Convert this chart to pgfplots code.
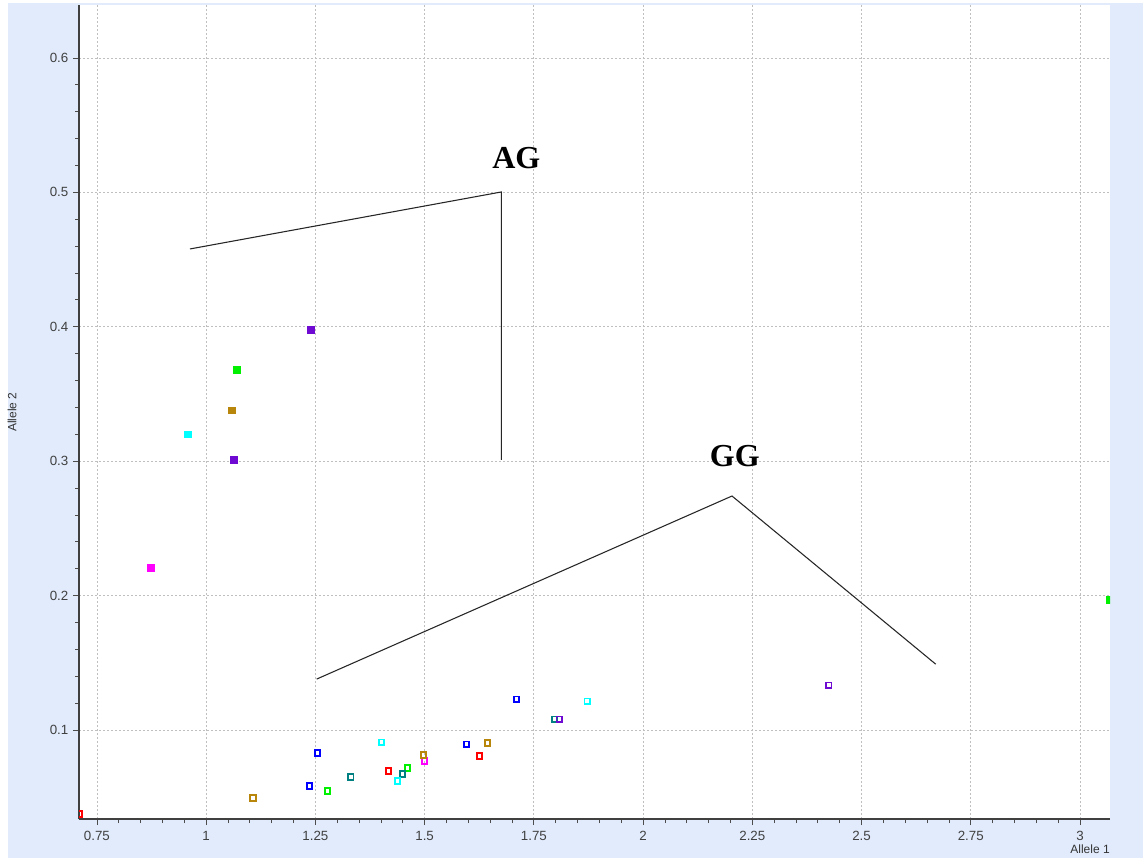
\documentclass[border=0pt]{standalone}
\usepackage{pgfplots}
\pgfplotsset{compat=1.18}
\usepackage{fontspec}
\setmainfont{Liberation Sans}
\newfontfamily\callout{Liberation Serif}

\definecolor{bgblue}{RGB}{225,235,252}
\definecolor{cMag}{RGB}{255,0,255}
\definecolor{cPur}{RGB}{110,10,210}
\definecolor{cGrn}{RGB}{0,240,0}
\definecolor{cGld}{RGB}{184,134,11}
\definecolor{cCyn}{RGB}{0,255,255}
\definecolor{cRed}{RGB}{255,0,0}
\definecolor{cBlu}{RGB}{0,0,255}
\definecolor{cTel}{RGB}{0,128,128}

\pgfplotsset{
  solid/.style={only marks, mark=square*, mark size=2.5pt, mark options={draw=#1, fill=#1}},
  hollow/.style={only marks, mark=square, mark size=2.0pt, mark options={draw=#1, line width=1.4pt}},
}

\begin{document}
\begin{tikzpicture}
\useasboundingbox (0,0) rectangle (857.25pt,643.5pt);
\fill[bgblue] (6pt,0) rectangle (857.25pt,641.25pt);
\begin{axis}[
  at={(59.25pt,29.25pt)}, anchor=south west,
  scale only axis, width=773.25pt, height=610.5pt,
  xmin=0.709, xmax=3.0686, ymin=0.0338, ymax=0.6394,
  axis x line*=bottom, axis y line*=left,
  axis line style={draw=black!75, line width=1.1pt},
  xtick={0.75,1,1.25,1.5,1.75,2,2.25,2.5,2.75,3},
  ytick={0.1,0.2,0.3,0.4,0.5,0.6},
  minor x tick num=4, minor y tick num=4,
  tick align=outside, major tick length=4.5pt, minor tick length=3pt,
  tick style={draw=black!70, line width=0.6pt},
  grid=major,
  major grid style={draw=black!25, dash pattern=on 1.5pt off 1.5pt, line width=0.6pt},
  axis background/.style={fill=white},
  /pgf/number format/assume math mode=true,
  ticklabel style={font=\fontsize{10}{12}\selectfont, text=black!75},
  xticklabel style={yshift=-1pt},
  clip marker paths=true,
  xlabel={Allele 1}, ylabel={Allele 2},
  xlabel style={at={(axis description cs:1,0)}, anchor=north east, yshift=-19.5pt, inner sep=0pt,
    font=\fontsize{9}{10}\selectfont, text=black!80},
  ylabel style={at={(axis description cs:0,0.5)}, anchor=center, yshift=50.25pt, inner sep=0pt,
    font=\fontsize{9}{10}\selectfont, text=black!80},
]
% filled markers
\addplot[solid=cMag] coordinates {(1.874,0.640) (0.874,0.2205)};
\addplot[solid=cPur] coordinates {(1.239,0.3976) (1.063,0.301)};
\addplot[solid=cGrn] coordinates {(1.070,0.3678) (3.068,0.1967)};
\addplot[solid=cGld] coordinates {(1.059,0.338)};
\addplot[solid=cCyn] coordinates {(0.958,0.320)};
% hollow markers
\addplot[hollow=cRed] coordinates {(0.709,0.0375) (1.417,0.0695) (1.625,0.0806)};
\addplot[hollow=cMag] coordinates {(0.775,0.0335) (1.500,0.0769)};
\addplot[hollow=cGld] coordinates {(1.107,0.0494) (1.497,0.0814) (1.644,0.0903)};
\addplot[hollow=cBlu] coordinates {(1.237,0.0583) (1.255,0.0829) (1.596,0.0895) (1.710,0.123)};
\addplot[hollow=cGrn] coordinates {(1.278,0.0546) (1.461,0.0717)};
\addplot[hollow=cTel] coordinates {(1.331,0.065) (1.449,0.0673) (1.797,0.1081)};
\addplot[hollow=cCyn] coordinates {(1.401,0.091) (1.438,0.062) (1.872,0.1215)};
\addplot[hollow=cPur] coordinates {(1.808,0.1081) (2.425,0.1334)};
% cluster callouts
\addplot[no marks, black!85, line width=0.8pt] coordinates {(0.963,0.4579) (1.6757,0.5003) (1.6757,0.3009)};
\addplot[no marks, black!85, line width=0.8pt] coordinates {(1.253,0.1379) (2.2035,0.2741) (2.6697,0.149)};
\node[font=\callout\bfseries\fontsize{24}{28}\selectfont] at (axis cs:1.71,0.5256) {AG};
\node[font=\callout\bfseries\fontsize{24}{28}\selectfont] at (axis cs:2.21,0.3038) {GG};
\end{axis}
\end{tikzpicture}
\end{document}
